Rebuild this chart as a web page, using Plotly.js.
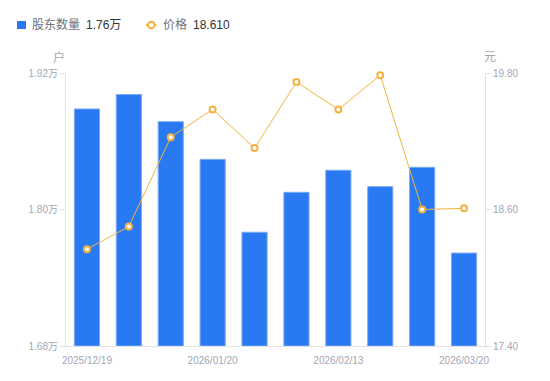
<!DOCTYPE html>
<html><head><meta charset="utf-8">
<script src="https://cdn.plot.ly/plotly-3.0.1.min.js"></script>
<style>html,body{margin:0;padding:0;background:#fff}#c{width:550px;height:381px}</style>
</head><body><div id="c"></div>
<script>
const idx = [0,1,2,3,4,5,6,7,8,9];
const holders = [1.8884, 1.9011, 1.8772, 1.8441, 1.7800, 1.8151, 1.8345, 1.8201, 1.8371, 1.7617];
const price = [18.25, 18.45, 19.235, 19.48, 19.14, 19.72, 19.48, 19.78, 18.60, 18.61];
const xTickPos = [0, 3, 6, 9];
const xTickText = ['2025/12/19', '2026/01/20', '2026/02/13', '2026/03/20'];
const yLeftTicks = [1.68, 1.80, 1.92];
const yLeftText = ['1.68万', '1.80万', '1.92万'];
const yRightTicks = [17.40, 18.60, 19.80];
const yRightText = ['17.40', '18.60', '19.80'];
const seriesNames = ['股东数量', '价格'];

const BLUE = '#2979f2', ORANGE = '#f6b23e';
const L = 66, R = 485, T = 73, B = 346;
const px = p => (p - L) / (R - L);
const py = p => (B - p) / (B - T);
const fontFam = 'Liberation Sans, Noto Sans CJK SC, sans-serif';
const tickFont = {family: fontFam, size: 10, color: '#a4a6b3'};

const data = [
  {type:'bar', x: idx, y: holders.map(v=>v-1.68), base: 1.68, name: seriesNames[0],
   marker:{color:BLUE, line:{color:'#7aaaf6', width:1}}, width:0.6, yaxis:'y', hoverinfo:'skip'},
  {type:'scatter', mode:'lines+markers', x: idx, y: price, name: seriesNames[1], yaxis:'y2', cliponaxis:false,
   line:{color:ORANGE, width:1}, marker:{symbol:'circle', size:6, color:'#fff', line:{color:ORANGE, width:2}}, hoverinfo:'skip'}
];

const legFont = {family: fontFam, size: 12, color: '#6e7079'};
const valFont = {family: fontFam, size: 12, color: '#333'};
const legY = py(25);
const layout = {
  width:550, height:381, margin:{l:L, r:550-R, t:T, b:381-B},
  paper_bgcolor:'#fff', plot_bgcolor:'#fff',
  font:{family:fontFam},
  showlegend:false,
  xaxis:{range:[-0.5,9.5], tickvals:xTickPos, ticktext:xTickText, showgrid:false, zeroline:false, showline:true, linecolor:'#e3e3e3', linewidth:1, ticks:'outside', ticklen:5, tickcolor:'rgba(0,0,0,0)', tickfont:tickFont},
  yaxis:{range:[1.68,1.92], tickvals:yLeftTicks, ticktext:yLeftText, showgrid:false, zeroline:false, showline:true, linecolor:'#e3e3e3', ticks:'outside', ticklen:5, tickcolor:'#e3e3e3', tickfont:tickFont},
  yaxis2:{range:[17.4,19.8], tickvals:yRightTicks, ticktext:yRightText, overlaying:'y', side:'right', showgrid:false, zeroline:false, showline:true, linecolor:'#e3e3e3', ticks:'outside', ticklen:5, tickcolor:'#e3e3e3', tickfont:tickFont},
  shapes:[
    {type:'rect', xref:'paper', yref:'paper', x0:px(17), x1:px(26), y0:py(21), y1:py(29), fillcolor:BLUE, line:{width:0}},
    {type:'line', xref:'paper', yref:'paper', x0:px(146), x1:px(156.5), y0:legY, y1:legY, line:{color:ORANGE, width:2}},
    {type:'circle', xref:'paper', yref:'paper', x0:px(148), x1:px(154.5), y0:py(21.8), y1:py(28.2), fillcolor:'#fff', line:{color:ORANGE, width:2}}
  ],
  annotations:[
    {text:seriesNames[0], xref:'paper', yref:'paper', x:px(30), y:legY, xanchor:'left', yanchor:'middle', showarrow:false, font:legFont},
    {text:holders[holders.length-1].toFixed(2)+'万', xref:'paper', yref:'paper', x:px(84), y:legY, xanchor:'left', yanchor:'middle', showarrow:false, font:valFont},
    {text:seriesNames[1], xref:'paper', yref:'paper', x:px(160.5), y:legY, xanchor:'left', yanchor:'middle', showarrow:false, font:legFont},
    {text:price[price.length-1].toFixed(3), xref:'paper', yref:'paper', x:px(191), y:legY, xanchor:'left', yanchor:'middle', showarrow:false, font:valFont},
    {text:'户', xref:'paper', yref:'paper', x:px(59), y:py(57), xanchor:'center', yanchor:'middle', showarrow:false, font:{family:fontFam, size:12, color:'#a4a6b3'}},
    {text:'元', xref:'paper', yref:'paper', x:px(490), y:py(57), xanchor:'center', yanchor:'middle', showarrow:false, font:{family:fontFam, size:12, color:'#a4a6b3'}}
  ]
};
Plotly.newPlot('c', data, layout, {displayModeBar:false, staticPlot:true});
</script></body></html>
